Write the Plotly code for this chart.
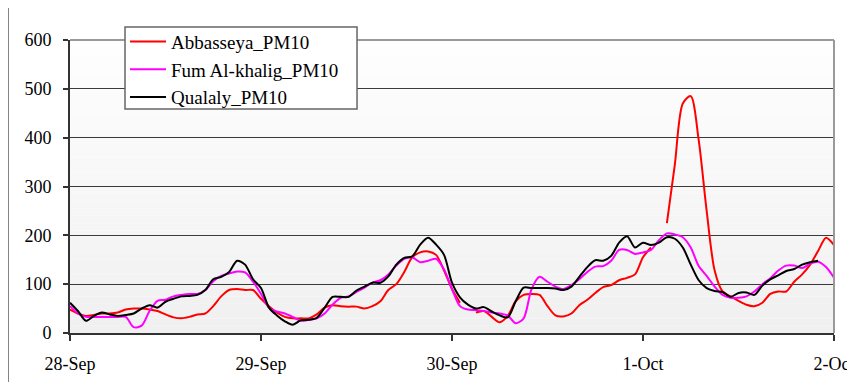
import plotly.graph_objects as go
import pandas as pd

hours = pd.date_range("2008-09-28 00:00", periods=97, freq="h")

abbasseya = [48, 40, 35, 37, 40, 40, 42, 48, 50, 50, 48, 45, 38, 32, 30, 33, 38, 40, 55, 75,
             88, 90, 88, 88, 70, 55, 42, 33, 30, 30, 30, 38, 52, 57, 55, 54, 54, 50, 55, 65,
             88, 100, 125, 155, 165, 167, 160, 128, 90, 62, None, 42, 45, 33, 22, 35, 65, 78, 80, 78,
             55, 36, 34, 40, 57, 68, 82, 94, 98, 108, 113, 120, 155, 175, None, 225, 345, 470, 485, 395,
             250, 128, 85, 75, 66, 58, 55, 62, 80, 85, 85, 105, 120, 140, 168, 195, 180]

fum_alkhalig = [55, 40, 33, 33, 33, 33, 33, 33, 12, 15, 45, 66, 68, 75, 78, 80, 80, 88, 106, 117,
                122, 126, 124, 105, 80, 52, 44, 40, 33, 25, 27, 30, 40, 58, 72, 75, 84, 93, 103, 108,
                120, 138, 152, 155, 145, 148, 152, 130, 90, 55, 48, 47, 45, 42, 40, 36, 20, 30, 90, 115,
                105, 95, 90, 98, 110, 125, 136, 137, 148, 170, 170, 162, 165, 170, 190, 204, 202, 196, 175, 137,
                117, 95, 78, 72, 72, 75, 85, 100, 112, 128, 138, 138, 133, 142, 146, 135, 113]

qualaly = [62, 45, 25, 35, 42, 38, 35, 37, 40, 50, 57, 52, 64, 70, 75, 76, 78, 88, 110, 115,
           125, 148, 140, 110, 92, 52, 36, 24, 17, 26, 27, 31, 52, 74, 74, 74, 87, 95, 103, 103,
           116, 140, 154, 157, 181, 195, 181, 160, 103, 73, 58, 50, 53, 44, 36, 32, 65, 93, 92, 92,
           92, 91, 88, 95, 115, 135, 149, 148, 158, 185, 198, 175, 185, 180, 185, 196, 193, 175, 140, 108,
           92, 86, 84, 74, 82, 83, 78, 97, 110, 118, 127, 131, 140, 145, 148, None, None]

series = [("Abbasseya_PM10", abbasseya, "#ff0000"),
          ("Fum Al-khalig_PM10", fum_alkhalig, "#ff00ff"),
          ("Qualaly_PM10", qualaly, "#000000")]

y_ticks = [0, 100, 200, 300, 400, 500, 600]
x_ticks = pd.date_range("2008-09-28", periods=5, freq="D")
x_tick_labels = ["28-Sep", "29-Sep", "30-Sep", "1-Oct", "2-Oct"]

FONT = "Liberation Serif"

fig = go.Figure()
for i, (name, vals, color) in enumerate(series):
    fig.add_trace(go.Scatter(x=hours, y=vals, name=name, mode="lines",
                             line=dict(color=color, width=2, shape="spline", smoothing=0.8),
                             connectgaps=False))

# gradient plot background
n = 40
shapes = []
for k in range(n):
    t = k / (n - 1)
    c = int(round(240 + (254 - 240) * t))
    shapes.append(dict(type="rect", xref="paper", yref="paper", x0=0, x1=1,
                       y0=k / n, y1=(k + 1) / n, line=dict(width=0),
                       fillcolor=f"rgb({c},{c},{c})", layer="below"))
# plot area top/right border
shapes.append(dict(type="line", xref="paper", yref="paper", x0=0, x1=1, y0=1, y1=1,
                   line=dict(color="#9a9a9a", width=2), layer="above"))
shapes.append(dict(type="line", xref="paper", yref="paper", x0=1, x1=1, y0=0, y1=1,
                   line=dict(color="#9a9a9a", width=2), layer="above"))
# outer chart frame (left edge)
shapes.append(dict(type="line", xref="paper", yref="paper", x0=-0.0815, x1=-0.0815, y0=-0.3, y1=1.2,
                   line=dict(color="#000000", width=1.5), layer="above"))
# legend box
shapes.append(dict(type="rect", xref="paper", yref="paper", x0=0.072, x1=0.3757, y0=0.7645, y1=1.0444,
                   fillcolor="white", line=dict(color="#666666", width=1.5), layer="above"))

fig.update_layout(
    width=847, height=374,
    margin=dict(l=62, r=21, t=32, b=49, autoexpand=False),
    paper_bgcolor="white",
    plot_bgcolor="rgba(0,0,0,0)",
    font=dict(family=FONT, size=18, color="#000000"),
    shapes=shapes,
    showlegend=True,
    legend=dict(x=0.072, y=1.059, xanchor="left", yanchor="top",
                bgcolor="rgba(0,0,0,0)", borderwidth=0,
                font=dict(family=FONT, size=19), itemwidth=36,
                traceorder="normal"),
    xaxis=dict(range=[x_ticks[0], x_ticks[-1]], tickvals=x_ticks, ticktext=x_tick_labels,
               showgrid=False, showline=True, linecolor="#333333", linewidth=2,
               ticks="outside", ticklen=6, tickcolor="#333333", tickwidth=1.5,
               ticklabelstandoff=7, zeroline=False),
    yaxis=dict(range=[0, 600], tickvals=y_ticks, showgrid=True, gridcolor="#3a3a3a", gridwidth=1,
               showline=True, linecolor="#333333", linewidth=2,
               ticks="outside", ticklen=5, tickcolor="#333333", tickwidth=1.5,
               ticklabelstandoff=8, zeroline=False),
)

fig.write_html("out.html")
